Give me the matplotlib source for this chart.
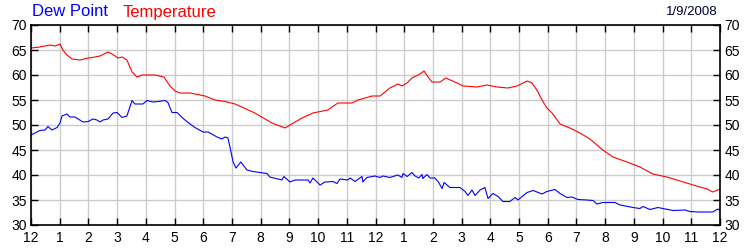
import matplotlib
matplotlib.use("Agg")
import matplotlib.pyplot as plt

# hours since midnight, readings in deg F
temp_hours = [0.00, 0.31, 0.66, 0.84, 1.01, 1.11, 1.25, 1.43, 1.71, 1.99, 2.23, 2.40,
              2.68, 2.82, 3.03, 3.17, 3.34, 3.52, 3.69, 3.87, 4.32, 4.63, 4.84, 5.02,
              5.19, 5.54, 6.06, 6.41, 6.76, 7.11, 7.80, 8.39, 8.85, 9.20, 9.44, 9.82,
              10.34, 10.69, 11.18, 11.39, 11.88, 12.16, 12.50, 12.78, 12.92, 13.10,
              13.27, 13.55, 13.69, 13.83, 13.97, 14.25, 14.45, 14.84, 15.05, 15.53,
              15.88, 16.23, 16.61, 16.93, 17.28, 17.45, 17.62, 17.80, 17.97, 18.15,
              18.43, 18.77, 19.12, 19.47, 19.92, 20.27, 20.76, 21.21, 21.66, 22.15,
              22.61, 23.06, 23.54, 23.75, 24.00]
temperature = [65.4, 65.6, 66.0, 65.8, 66.2, 65.0, 64.0, 63.2, 63.0, 63.4, 63.6, 63.8,
               64.6, 64.2, 63.4, 63.6, 63.0, 60.6, 59.6, 60.0, 60.0, 59.6, 57.8, 56.8,
               56.4, 56.4, 55.8, 55.0, 54.7, 54.2, 52.4, 50.4, 49.4, 50.6, 51.4, 52.4,
               53.0, 54.4, 54.4, 55.0, 55.8, 55.8, 57.4, 58.2, 57.8, 58.4,
               59.4, 60.2, 60.8, 59.6, 58.6, 58.6, 59.4, 58.4, 57.8, 57.6,
               58.0, 57.6, 57.4, 57.8, 58.8, 58.4, 57.0, 55.0, 53.4, 52.4,
               50.2, 49.4, 48.4, 47.2, 45.0, 43.6, 42.6, 41.6, 40.2, 39.6,
               38.8, 38.0, 37.2, 36.6, 37.2]

dew_hours = [0.00, 0.14, 0.31, 0.49, 0.59, 0.73, 0.91, 1.01, 1.08, 1.25, 1.36, 1.53,
             1.81, 1.99, 2.16, 2.30, 2.40, 2.51, 2.68, 2.86, 3.00, 3.17, 3.34, 3.52,
             3.62, 3.90, 4.04, 4.25, 4.42, 4.67, 4.77, 4.91, 5.09, 5.26, 5.47, 5.71,
             5.99, 6.17, 6.48, 6.65, 6.76, 6.86, 6.93, 7.04, 7.14, 7.31, 7.52, 7.73,
             8.22, 8.32, 8.74, 8.81, 9.02, 9.20, 9.65, 9.72, 9.82, 10.07, 10.24, 10.52,
             10.66, 10.76, 11.04, 11.11, 11.29, 11.53, 11.56, 11.70, 11.98, 12.16,
             12.26, 12.50, 12.78, 12.92, 12.96, 13.10, 13.27, 13.38, 13.51, 13.62,
             13.65, 13.79, 13.90, 14.07, 14.18, 14.32, 14.39, 14.59, 14.94, 15.12,
             15.22, 15.36, 15.47, 15.64, 15.81, 15.92, 16.09, 16.27, 16.44, 16.68,
             16.86, 16.96, 17.28, 17.49, 17.80, 17.97, 18.25, 18.43, 18.67, 18.84,
             19.05, 19.37, 19.58, 19.71, 19.92, 20.34, 20.52, 20.97, 21.21, 21.32,
             21.56, 21.84, 22.01, 22.36, 22.78, 22.95, 23.23, 23.75, 23.92, 24.00]
dew_point = [48.0, 48.4, 48.9, 49.0, 49.7, 49.0, 49.5, 50.4, 51.8, 52.2, 51.6, 51.6,
             50.6, 50.7, 51.2, 51.0, 50.6, 51.0, 51.2, 52.4, 52.5, 51.5, 51.8, 54.9,
             54.2, 54.2, 54.9, 54.6, 54.7, 54.9, 54.5, 52.5, 52.5, 51.5, 50.5, 49.5,
             48.6, 48.6, 47.6, 47.2, 47.6, 47.4, 45.6, 42.6, 41.4, 42.6, 41.0, 40.7,
             40.3, 39.6, 39.0, 39.7, 38.6, 39.0, 39.0, 38.4, 39.4, 38.0, 38.6, 38.7,
             38.3, 39.2, 39.0, 39.4, 38.7, 39.7, 38.6, 39.5, 39.8, 39.5,
             39.8, 39.5, 40.0, 39.5, 40.3, 39.7, 40.5, 39.8, 39.4, 40.1,
             39.3, 40.1, 39.4, 39.4, 38.7, 37.3, 38.5, 37.5, 37.5, 36.7,
             35.9, 37.0, 35.9, 37.0, 37.5, 35.3, 36.3, 35.7, 34.7, 34.7,
             35.5, 35.0, 36.5, 36.9, 36.2, 36.7, 37.1, 36.3, 35.5, 35.6,
             35.1, 35.0, 34.9, 34.2, 34.5, 34.5, 34.0, 33.5, 33.3, 33.7,
             33.1, 33.5, 33.3, 32.9, 33.0, 32.7, 32.6, 32.6, 33.2, 32.9]

hour_ticks = list(range(25))
hour_labels = ["12"] + [str(h) for h in range(1, 12)] + ["12"] + [str(h) for h in range(1, 12)] + ["12"]
y_ticks = [30, 35, 40, 45, 50, 55, 60, 65, 70]

plt.rcParams["font.family"] = ["Liberation Sans", "DejaVu Sans"]

fig = plt.figure(figsize=(7.5, 2.5), dpi=100)
ax = fig.add_axes([31 / 750, 0.1, 689 / 750, 0.8])

ax.plot(dew_hours, dew_point, color="#0000ff", linewidth=0.8)
ax.plot(temp_hours, temperature, color="#ff0000", linewidth=0.8)

ax.set_xlim(0, 24)
ax.set_ylim(30, 70)
ax.set_xticks(hour_ticks)
ax.set_xticklabels(hour_labels)
ax.set_yticks(y_ticks)
ax.grid(True, color="#cccccc", linewidth=1.0)
ax.set_axisbelow(True)

for sp in ax.spines.values():
    sp.set_color("black")
    sp.set_linewidth(1.2)

ax.tick_params(axis="both", direction="in", length=5, width=1, labelsize=10,
               colors="black", top=True, right=True, labelright=True)
ax.tick_params(axis="x", pad=4)
ax.tick_params(axis="y", pad=3)

fig.text(32 / 750, 1 - 12 / 250, "Dew Point", color="#0000ff", fontsize=12, va="center", ha="left")
fig.text(123 / 750, 1 - 12 / 250, "Temperature", color="#ff0000", fontsize=12, va="center", ha="left")
fig.text(718 / 750, 1 - 12 / 250, "1/9/2008", color="#000033", fontsize=9.5, va="center", ha="right")

fig.savefig("out.png", dpi=100)
plt.close(fig)
